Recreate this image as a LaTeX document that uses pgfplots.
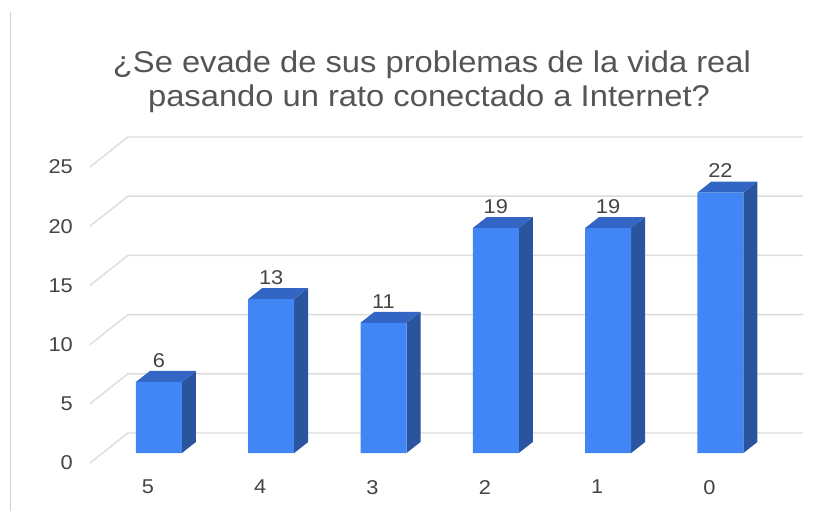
\documentclass[border=0pt]{standalone}
\usepackage{pgfplots}
\pgfplotsset{compat=1.18}
\usepackage{pgfplotstable}
\usepackage{fontspec}
\setmainfont{Liberation Sans}
\newfontfamily\chartfont[FakeStretch=1.09]{Liberation Sans}
\definecolor{barfront}{HTML}{4285F4}
\definecolor{bartop}{HTML}{3366C4}
\definecolor{barside}{HTML}{2A549E}
\definecolor{gridc}{HTML}{DCDCDC}
\definecolor{titlec}{HTML}{555555}
\definecolor{tickc}{HTML}{444444}
\pgfplotstableread{
x v
0 6
1 13
2 11
3 19
4 19
5 22
}\data
\begin{document}
\begin{tikzpicture}
\useasboundingbox (0,0) rectangle (833pt,511pt);
\draw[color=gray!35, line width=1pt] (10pt,0) -- (10pt,499pt);
\node[anchor=base, text=titlec, font=\chartfont\fontsize{30}{34}\selectfont, inner sep=0pt] at (432pt,438pt)
  {¿Se evade de sus problemas de la vida real};
\node[anchor=base, text=titlec, font=\chartfont\fontsize{30}{34}\selectfont, inner sep=0pt] at (429pt,404pt)
  {pasando un rato conectado a Internet?};
\begin{axis}[
  at={(73pt,31pt)}, anchor=south west,
  x=112.3pt, y=11.84pt,
  xmin=-0.765, xmax=5.8, ymin=-2.28, ymax=27,
  clip=false,
  axis line style={draw=none},
  tick style={draw=none},
  xtick={0,1,2,3,4,5},
  xticklabels={5,4,3,2,1,0},
  ytick={0,5,10,15,20,25},
  /pgf/number format/assume math mode=true,
  ticklabel style={font=\chartfont\fontsize{20}{24}\selectfont, text=tickc, inner sep=0pt},
  xticklabel style={xshift=-11pt},
  yticklabel style={yshift=-10pt},
]
% grid: back wall lines and floor diagonals
\addplot[gridc, line width=1.4pt] coordinates {(-0.614,-0.8446) (-0.276,1.689) (5.735,1.689)};
\addplot[gridc, line width=1.4pt] coordinates {(-0.614,4.1554) (-0.276,6.689) (5.735,6.689)};
\addplot[gridc, line width=1.4pt] coordinates {(-0.614,9.1554) (-0.276,11.689) (5.735,11.689)};
\addplot[gridc, line width=1.4pt] coordinates {(-0.614,14.1554) (-0.276,16.689) (5.735,16.689)};
\addplot[gridc, line width=1.4pt] coordinates {(-0.614,19.1554) (-0.276,21.689) (5.735,21.689)};
\addplot[gridc, line width=1.4pt] coordinates {(-0.614,24.1554) (-0.276,26.689) (5.735,26.689)};
% 3D faces of the bars
\pgfplotsforeachungrouped \k/\v in {0/6,1/13,2/11,3/19,4/19,5/22}{
  \pgfmathsetmacro\xa{\k-0.2048}
  \pgfmathsetmacro\xb{\k+0.2048}
  \pgfmathsetmacro\xc{\k+0.2048+0.1247}
  \pgfmathsetmacro\xd{\k-0.2048+0.1247}
  \pgfmathsetmacro\yt{\v+0.929}
  \edef\tmp{\noexpand\addplot[fill=barside, draw=none, forget plot] coordinates {(\xb,0) (\xc,0.929) (\xc,\yt) (\xb,\v)};
    \noexpand\addplot[fill=bartop, draw=none, forget plot] coordinates {(\xa,\v) (\xb,\v) (\xc,\yt) (\xd,\yt)};}
  \tmp
}
% front faces
\addplot[ybar, bar width=0.4096, fill=barfront, draw=none,
  nodes near coords,
  every node near coord/.append style={font=\chartfont\fontsize{20}{24}\selectfont, text=tickc, anchor=south, inner sep=0pt, yshift=14.5pt}]
  table[x=x, y=v]{\data};
\end{axis}
\end{tikzpicture}
\end{document}
